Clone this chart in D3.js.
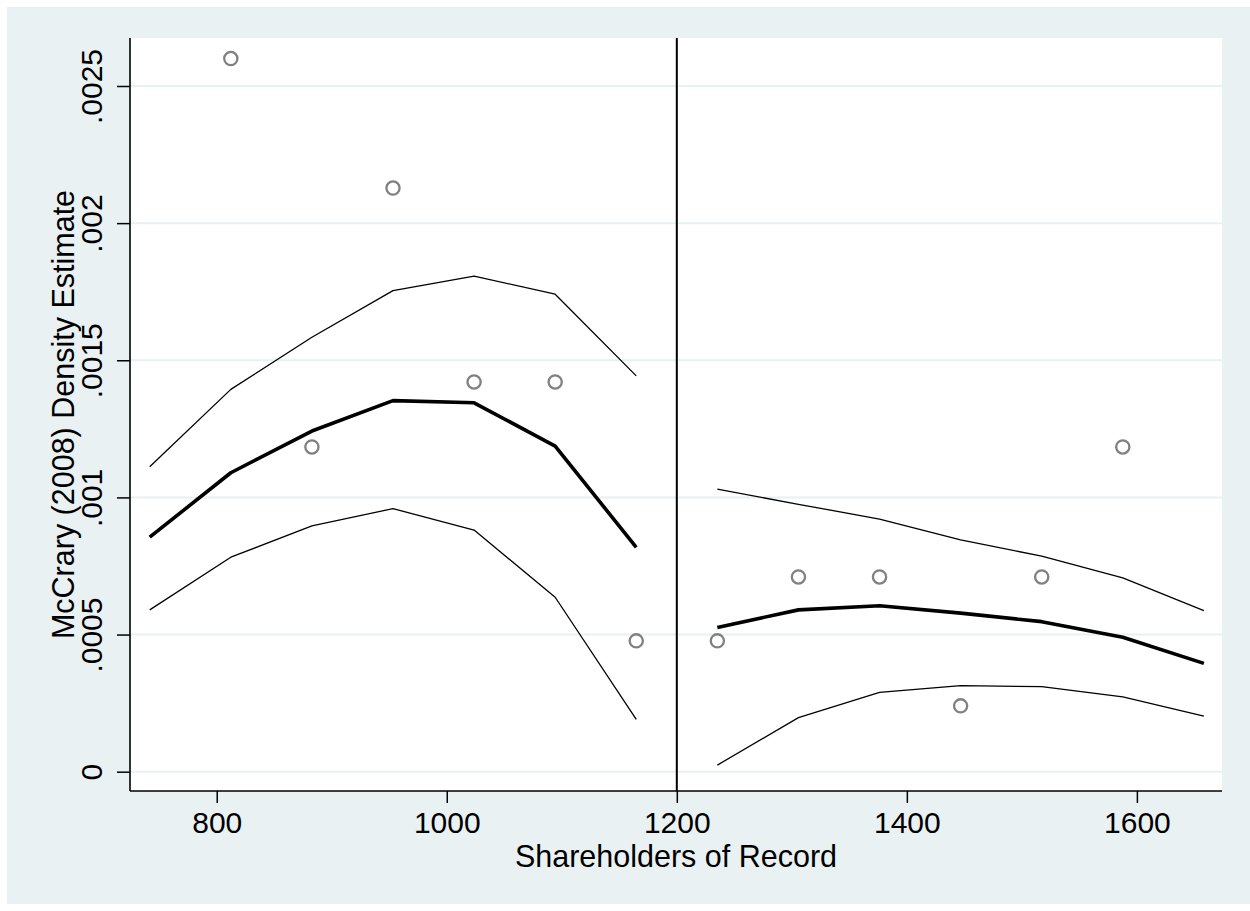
<!DOCTYPE html>
<html>
<head>
<meta charset="utf-8">
<script src="https://cdn.jsdelivr.net/npm/d3@7"></script>
<style>
  body { margin: 0; background: #fff; }
  text { font-family: "Liberation Sans", Arial, Helvetica, sans-serif; fill: #000; }
</style>
</head>
<body>
<div id="chart"></div>
<script>
// histogram bins (circles)
var binX = [812.25, 882.75, 953.25, 1023.75, 1094.25, 1164.75, 1235.25, 1305.75, 1376.25, 1446.75, 1517.25, 1587.75]
var binDensity = [0.002600, 0.001184, 0.002128, 0.001421, 0.001421, 0.000477, 0.000477, 0.000710, 0.000710, 0.000240, 0.000710, 0.001184]

// local linear fit, left of cutoff
var leftX = [741.75, 812.25, 882.75, 953.25, 1023.75, 1094.25, 1164.75]
var leftFit = [0.000855, 0.001090, 0.001242, 0.001353, 0.001345, 0.001187, 0.000818]
var leftHi = [0.001112, 0.001394, 0.001584, 0.001754, 0.001807, 0.001741, 0.001443]
var leftLo = [0.000590, 0.000782, 0.000896, 0.000959, 0.000881, 0.000636, 0.000191]

// right of cutoff
var rightX = [1235.25, 1305.75, 1376.25, 1446.75, 1517.25, 1587.75, 1658.25]
var rightFit = [0.000526, 0.000590, 0.000605, 0.000578, 0.000547, 0.000490, 0.000395]
var rightHi = [0.001030, 0.000975, 0.000921, 0.000845, 0.000786, 0.000707, 0.000587]
var rightLo = [0.000024, 0.000197, 0.000289, 0.000314, 0.000310, 0.000273, 0.000203]

var cutoff = 1200
var xTicks = [800, 1000, 1200, 1400, 1600]
var yTicks = [0, 0.0005, 0.001, 0.0015, 0.002, 0.0025]
var yTickLabels = ["0", ".0005", ".001", ".0015", ".002", ".0025"]

var W = 1250, H = 911
var bg = "#eaf1f3"

var svg = d3.select("#chart")
  .append("svg")
  .attr("width", W)
  .attr("height", H)

svg.append("rect").attr("width", W).attr("height", H).attr("fill", "#fff")
svg.append("rect")
  .attr("x", 7).attr("y", 7)
  .attr("width", W - 7).attr("height", H - 14)
  .attr("fill", bg)

// plot region edges
var pL = 130, pR = 1222, pT = 38, pB = 791

var x = d3.scaleLinear().domain([724.6, 1674]).range([pL, pR])
var y = d3.scaleLinear().domain([-0.0000704, 0.002675]).range([pB, pT])

svg.append("rect")
  .attr("x", pL).attr("y", pT)
  .attr("width", pR - pL).attr("height", pB - pT)
  .attr("fill", "#fff")

// grid lines
svg.append("g").selectAll("line")
  .data(yTicks)
  .enter().append("line")
  .attr("x1", pL).attr("x2", pR)
  .attr("y1", d => y(d)).attr("y2", d => y(d))
  .attr("stroke", "#e8f0f2")
  .attr("stroke-width", 2)

// axes
var xAxis = d3.axisBottom(x).tickValues(xTicks).tickSize(12).tickPadding(9)
  .tickFormat(d3.format("d"))
var gx = svg.append("g")
  .attr("transform", "translate(0," + pB + ")")
  .call(xAxis)
gx.select(".domain").attr("stroke", "#000").attr("stroke-width", 1.6)
  .attr("d", "M" + pL + ",0H" + pR)
gx.selectAll(".tick line").attr("stroke", "#000").attr("stroke-width", 1.5)
gx.selectAll(".tick text")
  .style("font-size", "30px")
  .style("font-family", "'Liberation Sans', Arial, sans-serif")
  .attr("fill", "#000")

var yAxis = d3.axisLeft(y).tickValues(yTicks).tickSize(13)
  .tickFormat((d, i) => yTickLabels[i])
var gy = svg.append("g")
  .attr("transform", "translate(" + pL + ",0)")
  .call(yAxis)
gy.select(".domain").attr("stroke", "#000").attr("stroke-width", 1.6)
  .attr("d", "M0," + pT + "V" + pB)
gy.selectAll(".tick line").attr("stroke", "#000").attr("stroke-width", 1.5)
gy.selectAll(".tick text")
  .style("font-size", "30px")
  .style("font-family", "'Liberation Sans', Arial, sans-serif")
  .attr("fill", "#000")
  .attr("text-anchor", "middle")
  .attr("dy", null)
  .attr("x", null)
  .attr("transform", "translate(-28.3,0) rotate(-90)")

// axis titles
svg.append("text")
  .attr("x", (pL + pR) / 2)
  .attr("y", 867)
  .attr("text-anchor", "middle")
  .style("font-size", "30.5px")
  .text("Shareholders of Record")

svg.append("text")
  .attr("transform", "translate(74," + (pT + pB) / 2 + ") rotate(-90)")
  .attr("text-anchor", "middle")
  .style("font-size", "30.5px")
  .text("McCrary (2008) Density Estimate")

// cutoff line
svg.append("line")
  .attr("x1", x(cutoff)).attr("x2", x(cutoff))
  .attr("y1", pT).attr("y2", pB)
  .attr("stroke", "#000")
  .attr("stroke-width", 2)

var line = d3.line()
  .x(d => x(d[0]))
  .y(d => y(d[1]))

function drawLine(xs, ys, w) {
  svg.append("path")
    .datum(d3.zip(xs, ys))
    .attr("d", line)
    .attr("fill", "none")
    .attr("stroke", "#000")
    .attr("stroke-width", w)
    .attr("stroke-linejoin", "round")
}

drawLine(leftX, leftHi, 1.3)
drawLine(leftX, leftLo, 1.3)
drawLine(leftX, leftFit, 3.6)
drawLine(rightX, rightHi, 1.3)
drawLine(rightX, rightLo, 1.3)
drawLine(rightX, rightFit, 3.6)

// bin circles
svg.append("g").selectAll("circle")
  .data(d3.zip(binX, binDensity))
  .enter().append("circle")
  .attr("cx", d => x(d[0]))
  .attr("cy", d => y(d[1]))
  .attr("r", 6.6)
  .attr("fill", "none")
  .attr("stroke", "#808080")
  .attr("stroke-width", 2.3)
</script>
</body>
</html>
